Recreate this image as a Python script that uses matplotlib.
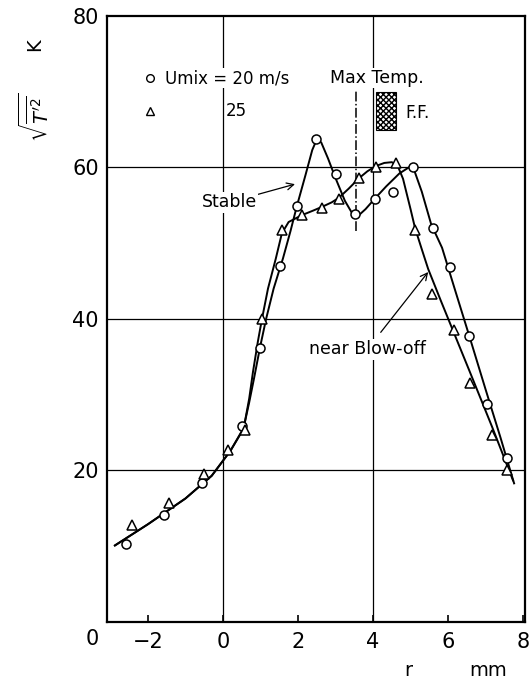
import matplotlib
matplotlib.use("Agg")
import matplotlib.pyplot as plt
from matplotlib.patches import Rectangle

plt.rcParams['font.family'] = ['DejaVu Sans']
plt.rcParams['mathtext.fontset'] = 'dejavusans'

# measured rms temperature fluctuation, Umix = 20 m/s (stable)
r_20 = [-2.59, -1.57, -0.56, 0.51, 0.99, 1.52, 1.97, 2.48, 3.01, 3.52, 4.05, 4.53,
        5.07, 5.60, 6.05, 6.56, 7.04, 7.57]
t_20 = [10.3, 14.1, 18.3, 25.9, 36.2, 47.0, 54.9, 63.7, 59.1, 53.8, 55.9, 56.8,
        60.0, 52.0, 46.9, 37.7, 28.8, 21.7]

# measured rms temperature fluctuation, Umix = 25 m/s (near blow-off)
r_25 = [-2.43, -1.44, -0.51, 0.13, 0.59, 1.04, 1.57, 2.10, 2.64, 3.09, 3.63, 4.08,
        4.61, 5.12, 5.57, 6.17, 6.59, 7.17, 7.57]
t_25 = [12.8, 15.7, 19.6, 22.7, 25.4, 40.0, 51.8, 53.7, 54.7, 55.8, 58.6, 60.1,
        60.6, 51.8, 43.3, 38.5, 31.6, 24.7, 20.0]

# hand-faired curves through each data set
stable_r = [-2.88, -2.0, -1.0, -0.3, 0.2, 0.55, 0.7, 0.83, 0.99, 1.15, 1.35, 1.6,
            1.8, 1.97, 2.2, 2.38, 2.5, 2.62, 2.8, 3.0, 3.25, 3.45, 3.6, 3.8, 4.05,
            4.35, 4.7, 4.95, 5.1, 5.3, 5.55, 5.84, 6.2, 6.6, 7.0, 7.4, 7.76]
stable_t = [10.1, 12.9, 16.3, 19.3, 22.6, 25.6, 29.0, 32.2, 36.3, 40.0, 44.0, 48.0,
            51.6, 54.9, 59.0, 62.3, 63.7, 63.3, 61.2, 58.6, 55.6, 53.9, 53.6, 54.5,
            55.9, 57.5, 59.2, 60.0, 59.6, 56.8, 52.5, 49.4, 43.6, 37.2, 30.7, 24.3, 18.3]

blowoff_r = [-2.88, -2.0, -1.0, -0.3, 0.2, 0.55, 0.7, 0.8, 0.93, 1.04, 1.2, 1.41,
             1.57, 1.75, 2.1, 2.4, 2.64, 2.9, 3.09, 3.35, 3.63, 3.85, 4.08, 4.3,
             4.5, 4.65, 4.8, 5.0, 5.12, 5.3, 5.47, 5.8, 6.17, 6.59, 7.17, 7.73]
blowoff_t = [10.1, 12.9, 16.3, 19.3, 22.6, 25.5, 29.5, 33.0, 37.0, 40.0, 44.0, 48.0,
             51.3, 52.8, 53.7, 54.3, 54.8, 55.4, 56.0, 57.2, 58.6, 59.5, 60.2, 60.6,
             60.7, 60.3, 58.5, 54.5, 52.0, 49.2, 46.6, 42.5, 38.0, 32.9, 25.8, 18.7]

fig = plt.figure(figsize=(5.29, 6.92), dpi=100)
ax = fig.add_axes([0.2023, 0.1012, 0.7901, 0.8757])
ax.set_xlim(-3.09, 8.05)
ax.set_ylim(0, 80)

for s in ax.spines.values():
    s.set_linewidth(1.6)

# grid at r = 0, 4 and every 20 K
for gx in [0, 4]:
    ax.axvline(gx, color='black', lw=0.9, zorder=1)
for gy in [20, 40, 60]:
    ax.axhline(gy, color='black', lw=0.9, zorder=1)

ax.plot(stable_r, stable_t, color='black', lw=1.4, zorder=3, solid_joinstyle='round')
ax.plot(blowoff_r, blowoff_t, color='black', lw=1.4, zorder=3, solid_joinstyle='round')
ax.plot(r_20, t_20, 'o', ms=6.5, mfc='white', mec='black', mew=1.1, zorder=4)
ax.plot(r_25, t_25, '^', ms=6.5, mfc='white', mec='black', mew=1.1, zorder=4)

ax.set_xticks([-2, 0, 2, 4, 6, 8])
ax.set_xticklabels(['\u22122', '0', '2', '4', '6', '8'])
ax.set_yticks([20, 40, 60, 80])
ax.tick_params(direction='in', length=5, width=1.2, labelsize=15, pad=7)
ax.tick_params(axis='y', length=0, pad=6)
ax.text(-3.49, -2.3, '0', fontsize=15, ha='center', va='center', clip_on=False)

# legend
ax.plot([-1.95], [71.8], 'o', ms=5.5, mfc='white', mec='black', mew=1.0)
ax.plot([-1.95], [67.4], '^', ms=5.5, mfc='white', mec='black', mew=1.0)
box = dict(facecolor='white', edgecolor='none', pad=1)
ax.text(-1.55, 71.8, 'Umix = 20 m/s', fontsize=12, va='center', bbox=box, zorder=2)
ax.text(0.08, 67.4, '25', fontsize=12, va='center', bbox=box, zorder=2)

# flame front region and max temperature position
ax.text(2.85, 71.8, 'Max Temp.', fontsize=12.5, va='center', bbox=box, zorder=2)
ax.plot([3.55, 3.55], [51.6, 70.2], color='black', lw=1.1, ls='-.', zorder=3)
ax.add_patch(Rectangle((4.08, 65.0), 0.53, 5.0, facecolor='white',
                       edgecolor='black', hatch='xxxxxx', lw=0.8, zorder=3))
ax.text(4.85, 67.2, 'F.F.', fontsize=12, va='center')

# curve labels
ax.annotate('Stable', xy=(1.92, 57.8), xytext=(0.9, 55.4), fontsize=12.5,
            ha='right', va='center', bbox=box, zorder=5,
            arrowprops=dict(arrowstyle='->', color='black', lw=0.9,
                            shrinkA=0, shrinkB=0))
ax.annotate('near Blow-off', xy=(5.47, 46.2), xytext=(3.85, 36.0), fontsize=12.5,
            ha='center', va='center', bbox=box, zorder=5,
            arrowprops=dict(arrowstyle='->', color='black', lw=0.9,
                            shrinkA=6, shrinkB=0))

# axis labels
fig.text(0.066, 0.935, 'K', fontsize=14, rotation=90, ha='center', va='center')
fig.text(0.066, 0.83, r"$\sqrt{\overline{T^{\prime 2}}}$", fontsize=14, rotation=90,
         ha='center', va='center')
fig.text(0.771, 0.017, 'r', fontsize=14, ha='center', va='bottom')
fig.text(0.922, 0.017, 'mm', fontsize=14, ha='center', va='bottom')

fig.savefig('out.png', dpi=100)
